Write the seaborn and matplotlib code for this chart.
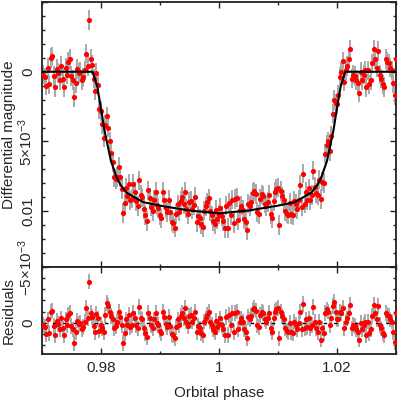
import numpy as np
import matplotlib
matplotlib.use('Agg')
import matplotlib.pyplot as plt
import seaborn as sns
from matplotlib.ticker import MultipleLocator, FuncFormatter

# orbital phase of each observation
phase = [
    0.97025, 0.97050, 0.97075, 0.97100, 0.97125, 0.97150, 0.97175, 0.97200, 0.97225, 0.97250,
    0.97275, 0.97300, 0.97325, 0.97350, 0.97375, 0.97400, 0.97425, 0.97450, 0.97475, 0.97500,
    0.97525, 0.97550, 0.97575, 0.97600, 0.97625, 0.97650, 0.97675, 0.97700, 0.97725, 0.97750,
    0.97775, 0.97800, 0.97825, 0.97850, 0.97875, 0.97900, 0.97925, 0.97950, 0.97975, 0.98000,
    0.98025, 0.98050, 0.98075, 0.98100, 0.98125, 0.98150, 0.98175, 0.98200, 0.98225, 0.98250,
    0.98275, 0.98300, 0.98325, 0.98350, 0.98375, 0.98400, 0.98425, 0.98450, 0.98475, 0.98500,
    0.98525, 0.98550, 0.98575, 0.98600, 0.98625, 0.98650, 0.98675, 0.98700, 0.98725, 0.98750,
    0.98775, 0.98800, 0.98825, 0.98850, 0.98875, 0.98900, 0.98925, 0.98950, 0.98975, 0.99000,
    0.99025, 0.99050, 0.99075, 0.99100, 0.99125, 0.99150, 0.99175, 0.99200, 0.99225, 0.99250,
    0.99275, 0.99300, 0.99325, 0.99350, 0.99375, 0.99400, 0.99425, 0.99450, 0.99475, 0.99500,
    0.99525, 0.99550, 0.99575, 0.99600, 0.99625, 0.99650, 0.99675, 0.99700, 0.99725, 0.99750,
    0.99775, 0.99800, 0.99825, 0.99850, 0.99875, 0.99900, 0.99925, 0.99950, 0.99975, 1.00000,
    1.00025, 1.00050, 1.00075, 1.00100, 1.00125, 1.00150, 1.00175, 1.00200, 1.00225, 1.00250,
    1.00275, 1.00300, 1.00325, 1.00350, 1.00375, 1.00400, 1.00425, 1.00450, 1.00475, 1.00500,
    1.00525, 1.00550, 1.00575, 1.00600, 1.00625, 1.00650, 1.00675, 1.00700, 1.00725, 1.00750,
    1.00775, 1.00800, 1.00825, 1.00850, 1.00875, 1.00900, 1.00925, 1.00950, 1.00975, 1.01000,
    1.01025, 1.01050, 1.01075, 1.01100, 1.01125, 1.01150, 1.01175, 1.01200, 1.01225, 1.01250,
    1.01275, 1.01300, 1.01325, 1.01350, 1.01375, 1.01400, 1.01425, 1.01450, 1.01475, 1.01500,
    1.01525, 1.01550, 1.01575, 1.01600, 1.01625, 1.01650, 1.01675, 1.01700, 1.01725, 1.01750,
    1.01775, 1.01800, 1.01825, 1.01850, 1.01875, 1.01900, 1.01925, 1.01950, 1.01975, 1.02000,
    1.02025, 1.02050, 1.02075, 1.02100, 1.02125, 1.02150, 1.02175, 1.02200, 1.02225, 1.02250,
    1.02275, 1.02300, 1.02325, 1.02350, 1.02375, 1.02400, 1.02425, 1.02450, 1.02475, 1.02500,
    1.02525, 1.02550, 1.02575, 1.02600, 1.02625, 1.02650, 1.02675, 1.02700, 1.02725, 1.02750,
    1.02775, 1.02800, 1.02825, 1.02850, 1.02875, 1.02900, 1.02925, 1.02950, 1.02975, 1.03000,
]

# differential magnitude (units of 1e-3 mag)
mag_mmag = [
    0.2, 0.4, 1.0, -0.3, 0.9, -1.0, -1.1, 0.3, 1.1, -0.2, 0.1, 0.6, -0.4, 0.5, 1.1, -0.3, 0.2, -0.7, -0.9, 0.3,
    0.6, 1.8, 0.8, -0.2, 0.1, 0.0, 0.6, 0.4, -0.1, -1.3, -0.4, -3.7, -0.9, -0.5, 0.5, 1.35, 0.1, 0.95, 2.7, 2.8,
    3.77, 4.73, 3.8, 3.2, 4.0, 5.0, 5.86, 6.47, 7.57, 7.68, 7.53, 6.84, 7.56, 8.41, 10.14, 9.38, 8.32, 8.9, 8.06, 9.23,
    9.09, 8.05, 8.61, 9.27, 9.63, 7.79, 8.85, 9.0, 9.85, 10.28, 10.7, 8.51, 9.05, 9.67, 9.99, 9.21, 8.63, 9.56, 9.78, 10.3,
    10.52, 8.64, 9.16, 9.77, 10.09, 9.21, 10.03, 10.74, 10.86, 11.18, 10.19, 9.51, 10.03, 9.25, 8.96, 9.48, 8.6, 9.82, 10.23, 9.35,
    9.26, 9.87, 9.58, 8.99, 10.8, 10.31, 10.52, 10.93, 11.14, 9.95, 9.66, 9.37, 9.08, 9.99, 10.3, 10.71, 10.92, 9.93, 10.54, 10.25,
    9.74, 10.33, 10.72, 11.21, 9.6, 11.19, 9.38, 10.27, 9.16, 10.85, 9.14, 9.03, 10.62, 9.91, 9.6, 9.89, 10.58, 10.77, 11.36, 9.45,
    9.63, 9.32, 8.7, 8.58, 8.76, 10.05, 10.23, 9.11, 8.79, 8.88, 9.46, 9.64, 9.33, 8.81, 10.19, 10.47, 9.26, 8.64, 8.42, 8.3,
    10.98, 8.56, 8.93, 9.21, 9.99, 10.17, 10.24, 9.42, 10.2, 10.28, 9.25, 9.5, 9.84, 9.19, 8.13, 9.67, 7.31, 9.45, 8.59, 9.23,
    8.36, 9.2, 8.82, 7.08, 8.24, 8.71, 8.86, 7.74, 9.13, 7.88, 7.97, 5.87, 5.26, 5.0, 5.7, 4.6, 3.0, 2.03, 2.27, 2.3,
    1.68, 0.35, 0.0, -0.75, 0.7, -0.1, -0.4, -0.9, -1.6, 0.5, 0.2, 0.3, 0.6, 0.8, 1.5, 0.0, 0.6, 0.2, -0.1, 1.1,
    -0.1, 0.9, 0.6, -0.6, -1.6, -0.9, -0.3, -1.5, 0.2, 0.5, 0.9, 1.1, -0.9, -0.7, -0.6, -0.3, -0.1, 0.8, 1.7, -0.9,
]

# residuals (units of 1e-3 mag)
resid_mmag = [
    0.2, 0.4, 1.0, -0.3, 0.9, -1.0, -1.1, 0.3, 1.1, -0.2, 0.1, 0.6, -0.4, 0.5, 1.1, -0.3, 0.2, -0.7, -0.9, 0.3,
    0.6, 1.8, 0.8, -0.2, 0.1, 0.0, 0.6, 0.4, -0.1, -1.3, -0.4, -3.7, -0.9, -0.5, 0.3, 0.8, -0.8, -0.4, 0.7, 0.2,
    0.5, 0.8, -0.7, -1.8, -1.5, -1.0, -0.6, -0.3, 0.5, 0.3, -0.1, -1.0, -0.5, 0.2, 1.8, 0.9, -0.3, 0.2, -0.7, 0.4,
    0.2, -0.9, -0.4, 0.2, 0.5, -1.4, -0.4, -0.3, 0.5, 0.9, 1.3, -0.9, -0.4, 0.2, 0.5, -0.3, -0.9, 0.0, 0.2, 0.7,
    0.9, -1.0, -0.5, 0.1, 0.4, -0.5, 0.3, 1.0, 1.1, 1.4, 0.4, -0.3, 0.2, -0.6, -0.9, -0.4, -1.3, -0.1, 0.3, -0.6,
    -0.7, -0.1, -0.4, -1.0, 0.8, 0.3, 0.5, 0.9, 1.1, -0.1, -0.4, -0.7, -1.0, -0.1, 0.2, 0.6, 0.8, -0.2, 0.4, 0.1,
    -0.4, 0.2, 0.6, 1.1, -0.5, 1.1, -0.7, 0.2, -0.9, 0.8, -0.9, -1.0, 0.6, -0.1, -0.4, -0.1, 0.6, 0.8, 1.4, -0.5,
    -0.3, -0.6, -1.2, -1.3, -1.1, 0.2, 0.4, -0.7, -1.0, -0.9, -0.3, -0.1, -0.4, -0.9, 0.5, 0.8, -0.4, -1.0, -1.2, -1.3,
    1.4, -1.0, -0.6, -0.3, 0.5, 0.7, 0.8, 0.0, 0.8, 0.9, -0.1, 0.2, 0.6, 0.0, -1.0, 0.6, -1.7, 0.5, -0.3, 0.4,
    -0.4, 0.5, 0.2, -1.4, -0.1, 0.5, 0.8, -0.1, 1.5, 0.5, 0.9, -0.9, -1.2, -1.0, 0.2, -0.4, -1.5, -1.9, -1.0, -0.3,
    -0.3, -1.0, -0.9, -1.3, 0.5, -0.1, -0.4, -0.9, -1.6, 0.5, 0.2, 0.3, 0.6, 0.8, 1.5, 0.0, 0.6, 0.2, -0.1, 1.1,
    -0.1, 0.9, 0.6, -0.6, -1.6, -0.9, -0.3, -1.5, 0.2, 0.5, 0.9, 1.1, -0.9, -0.7, -0.6, -0.3, -0.1, 0.8, 1.7, -0.9,
]

mag_err_mmag = 0.7

# transit model curve
model_phase = [0.9700, 0.9786, 0.9794, 0.9800, 0.9806, 0.9811, 0.9817, 0.9826, 0.9833, 0.9843,
               0.9855, 0.9872, 0.9900, 0.9950, 1.0000, 1.0050, 1.0100, 1.0128, 1.0145, 1.0157,
               1.0167, 1.0174, 1.0183, 1.0189, 1.0194, 1.0200, 1.0206, 1.0214, 1.0300]
model_mmag = [0, 0, 1.1, 2.6, 4.2, 5.2, 6.4, 7.5, 8.1, 8.65,
              8.95, 9.35, 9.6, 9.95, 10.15, 9.95, 9.6, 9.35, 8.95, 8.65,
              8.1, 7.5, 6.4, 5.2, 4.2, 2.6, 1.1, 0, 0]

top_labels = {0.0: '0', 0.005: r'$5{\times}10^{-3}$', 0.01: '0.01'}
bottom_labels = {-0.005: r'$-5{\times}10^{-3}$', 0.0: '0'}

sns.set_style('ticks')
plt.rcParams['font.family'] = ['Liberation Sans', 'DejaVu Sans']
plt.rcParams['mathtext.fontset'] = 'custom'
plt.rcParams['mathtext.rm'] = 'Liberation Sans'
plt.rcParams['mathtext.it'] = 'Liberation Sans:italic'
plt.rcParams['mathtext.bf'] = 'Liberation Sans:bold'

x = np.array(phase)
mag = np.array(mag_mmag) * 1e-3
res = np.array(resid_mmag) * 1e-3
err = mag_err_mmag * 1e-3

fig = plt.figure(figsize=(3.99, 4.05), dpi=100)
ax1 = fig.add_axes([0.105, 0.3407, 0.8875, 0.6543])
ax2 = fig.add_axes([0.105, 0.1259, 0.8875, 0.2148])

for ax, yv in ((ax1, mag), (ax2, res)):
    ax.errorbar(x, yv, yerr=err, fmt='none', ecolor='#a9a9a9', elinewidth=1.4, zorder=1)
    sns.scatterplot(x=x, y=yv, ax=ax, color='red', s=14, linewidth=0, zorder=3)

sns.lineplot(x=model_phase, y=np.array(model_mmag) * 1e-3, ax=ax1, color='black',
             lw=1.5, sort=False, estimator=None, zorder=4)
ax2.axhline(0, color='black', lw=1, ls=(0, (2.5, 5)), zorder=2)

ax1.set_ylim(0.014, -0.005)
ax2.set_ylim(0.0028, -0.005)


def make_fmt(labels):
    def f(v, pos):
        for k, s in labels.items():
            if abs(v - k) < 1e-9:
                return s
        return ''
    return FuncFormatter(f)


ax1.yaxis.set_major_formatter(make_fmt(top_labels))
ax2.yaxis.set_major_formatter(make_fmt(bottom_labels))

for ax in (ax1, ax2):
    ax.set_xlim(0.97, 1.03)
    ax.xaxis.set_major_locator(MultipleLocator(0.02))
    ax.xaxis.set_minor_locator(MultipleLocator(0.01))
    ax.yaxis.set_major_locator(MultipleLocator(0.005))
    ax.yaxis.set_minor_locator(MultipleLocator(0.001))
    ax.tick_params(which='both', direction='in', top=True, right=True,
                   width=1, color='#222222', labelsize=11)
    ax.tick_params(which='major', length=4.5, pad=5)
    ax.tick_params(which='minor', length=2.5)
    for t in ax.get_yticklabels():
        t.set_rotation(90)
        t.set_rotation_mode('default')
        t.set_ha('right')
        t.set_va('center')
    for sp in ax.spines.values():
        sp.set_linewidth(1.3)
        sp.set_color('#222222')
    ax.set_xlabel('')
    ax.set_ylabel('')

ax1.tick_params(labelbottom=False)
ax2.xaxis.set_major_formatter(FuncFormatter(lambda v, pos: f'{v:g}'))

ax1.set_ylabel('Differential magnitude', fontsize=11)
ax2.set_ylabel('Residuals', fontsize=11)
ax1.yaxis.set_label_coords(-0.073, 0.5)
ax2.yaxis.set_label_coords(-0.073, 0.5)
ax2.set_xlabel('Orbital phase', fontsize=11, labelpad=8)

fig.savefig('out.png', dpi=100)
